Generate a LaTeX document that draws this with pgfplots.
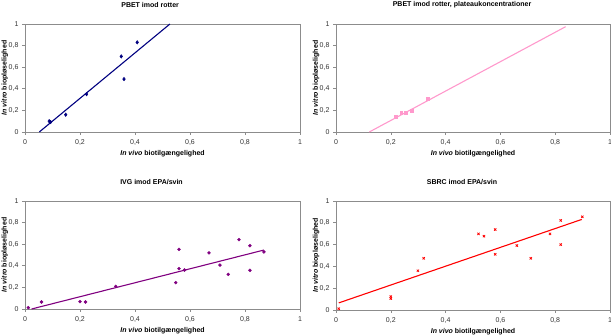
\documentclass[border=0pt]{standalone}
\usepackage{pgfplots}
\pgfplotsset{compat=1.18}
\usepackage{fontspec}
\setmainfont{Liberation Sans}
\definecolor{axgray}{HTML}{8C8C8C}
\definecolor{cnavy}{HTML}{000080}
\definecolor{cpink}{HTML}{FF99CC}
\definecolor{cpurple}{HTML}{800080}
\definecolor{cred}{HTML}{FF0000}
\pgfplotsset{
  panel/.style={
    scale only axis, width=275pt, height=108pt,
    xmin=0, xmax=1, ymin=0, ymax=1,
    xtick={0,0.2,0.4,0.6,0.8,1}, ytick={0,0.2,0.4,0.6,0.8,1},
    /pgf/number format/use comma,
    /pgf/number format/assume math mode=true,
    tick label style={font=\fontsize{7}{8}\selectfont, text=black!80},
    axis line style={axgray, line width=0.8pt},
    tick style={axgray, line width=0.6pt},
    tick align=outside, major tick length=3pt,
    xtick pos=bottom, ytick pos=left,
    clip=false,
    title style={font=\bfseries\fontsize{7}{8}\selectfont, anchor=center, yshift=13pt},
    every axis x label/.style={at={(axis description cs:0.5,0)}, anchor=center, yshift=-22pt, font=\bfseries\fontsize{7}{8}\selectfont},
    every axis y label/.style={at={(axis description cs:-0.073,0.5)}, rotate=90, anchor=center, font=\bfseries\fontsize{7}{8}\selectfont},
    xlabel={\textit{In vivo} biotilgængelighed},
    ylabel={\textit{In vitro} biopløselighed},
    x tick label style={yshift=-1pt},
  }
}
\begin{document}
\begin{tikzpicture}
\useasboundingbox (0,0) rectangle (611pt,336pt);
% Top-left
\begin{axis}[panel, at={(25pt,204pt)}, anchor=south west,
  title={PBET imod rotter}, title style={at={(0.455,1)}}]
\addplot[cnavy, only marks, mark=diamond*, mark size=1.8pt] coordinates {
 (0.088,0.10) (0.093,0.092) (0.148,0.16) (0.224,0.35) (0.350,0.70) (0.36,0.49) (0.408,0.83)};
\addplot[cnavy, line width=1.1pt] coordinates {(0.052,0) (0.527,1)};
\end{axis}
% Top-right
\begin{axis}[panel, width=274pt, at={(336pt,204pt)}, anchor=south west,
  title={PBET imod rotter, plateaukoncentrationer}, title style={at={(0.46,1)}}]
\addplot[cpink, only marks, mark=square*, mark size=1.4pt] coordinates {
 (0.219,0.145) (0.238,0.175) (0.255,0.178) (0.275,0.194) (0.335,0.308)};
\addplot[cpink, line width=1.1pt] coordinates {(0.1215,0) (0.838,0.975)};
\end{axis}
% Bottom-left
\begin{axis}[panel, at={(25pt,27pt)}, anchor=south west,
  title={IVG imod EPA/svin}, title style={at={(0.46,1)}}]
\addplot[cpurple, only marks, mark=*, mark size=1.5pt] coordinates {
 (0.012,0.012) (0.06,0.065) (0.2,0.068) (0.22,0.065) (0.33,0.21) (0.548,0.244)
 (0.56,0.552) (0.56,0.373) (0.58,0.361) (0.669,0.519) (0.709,0.407) (0.739,0.321)
 (0.778,0.642) (0.818,0.586) (0.818,0.358) (0.869,0.528)};
\addplot[cpurple, line width=1.1pt] coordinates {(0.024,0) (0.869,0.546)};
\end{axis}
% Bottom-right
\begin{axis}[panel, width=274pt, height=109pt, at={(336pt,26pt)}, anchor=south west,
  title={SBRC imod EPA/svin}, title style={at={(0.46,1)}}]
\addplot[cred, only marks, mark=x, mark size=1.6pt, mark options={line width=0.8pt}] coordinates {
 (0.01,0.012) (0.2,0.123) (0.2,0.105) (0.299,0.36) (0.32,0.474) (0.52,0.698)
 (0.54,0.677) (0.581,0.738) (0.581,0.511) (0.66,0.591) (0.711,0.474) (0.781,0.698)
 (0.82,0.822) (0.82,0.6) (0.899,0.855)};
\addplot[cred, line width=1.1pt] coordinates {(0.01,0.065) (0.897,0.831)};
\end{axis}
\end{tikzpicture}
\end{document}
